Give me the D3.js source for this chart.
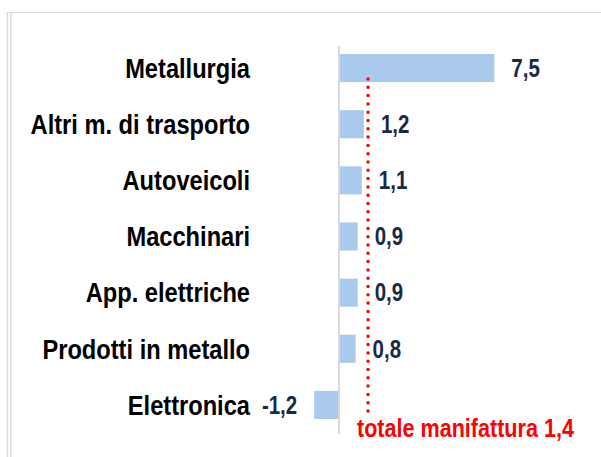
<!DOCTYPE html>
<html><head><meta charset="utf-8">
<script src="https://cdn.jsdelivr.net/npm/d3@7"></script>
<style>html,body{margin:0;padding:0;background:#fff;}svg{display:block;}</style>
</head><body>
<svg id="c" width="601" height="457"></svg>
<script>
const categories = ["Metallurgia","Altri m. di trasporto","Autoveicoli","Macchinari","App. elettriche","Prodotti in metallo","Elettronica"];
const values = [7.5, 1.2, 1.1, 0.9, 0.9, 0.8, -1.2];
const totalValue = 1.4;
const totalLabel = "totale manifattura";

const fmt = d3.formatLocale({decimal: ",", thousands: ".", grouping: [3], currency: ["", "€"], minus: "-"}).format(".1f");
const svg = d3.select("#c");
const font = "'Liberation Sans', Arial, sans-serif";
const SX = 0.845; // horizontally condensed type

// frame
const frame = svg.append("g").attr("stroke", "#d9d9d9").attr("fill", "none");
frame.append("line").attr("x1", 9).attr("x2", 601).attr("y1", 12.5).attr("y2", 12.5);
frame.append("line").attr("x1", 7.5).attr("x2", 7.5).attr("y1", 12).attr("y2", 457).attr("stroke-width", 1.5);
frame.append("line").attr("x1", 11).attr("x2", 11).attr("y1", 13).attr("y2", 457).attr("stroke-width", 1.5);

const x = d3.scaleLinear().domain([-1.2, 7.5]).range([314.2, 494.3]);
const y = d3.scaleBand().domain(categories).range([40, 433]).paddingInner(0.5).paddingOuter(0.25);

const data = categories.map((c, i) => ({c, v: values[i]}));

// bars
svg.append("g").selectAll("rect").data(data).join("rect")
  .attr("x", d => x(Math.min(0, d.v)))
  .attr("width", d => Math.abs(x(d.v) - x(0)))
  .attr("y", d => y(d.c))
  .attr("height", y.bandwidth())
  .attr("fill", "#a9caed");

// zero axis
svg.append("line").attr("x1", x(0)).attr("x2", x(0)).attr("y1", 46).attr("y2", 434)
  .attr("stroke", "#d9d9d9").attr("stroke-width", 2);

// category labels
svg.append("g").selectAll("text").data(data).join("text")
  .attr("transform", d => `translate(250,${y(d.c) + y.bandwidth() / 2}) scale(${SX},1)`)
  .attr("dy", "0.35em")
  .attr("text-anchor", "end").attr("font-family", font).attr("font-weight", "bold")
  .attr("font-size", 28).attr("fill", "#000").text(d => d.c);

// value labels
svg.append("g").selectAll("text").data(data).join("text")
  .attr("transform", d => `translate(${d.v >= 0 ? x(d.v) + 17 : x(d.v) - 17},${y(d.c) + y.bandwidth() / 2}) scale(0.82,1)`)
  .attr("dy", "0.35em")
  .attr("text-anchor", d => d.v >= 0 ? "start" : "end")
  .attr("font-family", font).attr("font-weight", "bold")
  .attr("font-size", 25).attr("fill", "#1a2a44").text(d => fmt(d.v));

// total line
svg.append("line").attr("x1", x(totalValue)).attr("x2", x(totalValue)).attr("y1", 79).attr("y2", 418)
  .attr("stroke", "#ff0000").attr("stroke-width", 3.5).attr("stroke-linecap", "round")
  .attr("stroke-dasharray", "0 8.3");

svg.append("text").attr("transform", `translate(357,437) scale(0.83,1)`)
  .attr("font-family", font).attr("font-weight", "bold").attr("font-size", 26).attr("fill", "#ff0000")
  .text(totalLabel + " " + fmt(totalValue));
</script>
</body></html>
